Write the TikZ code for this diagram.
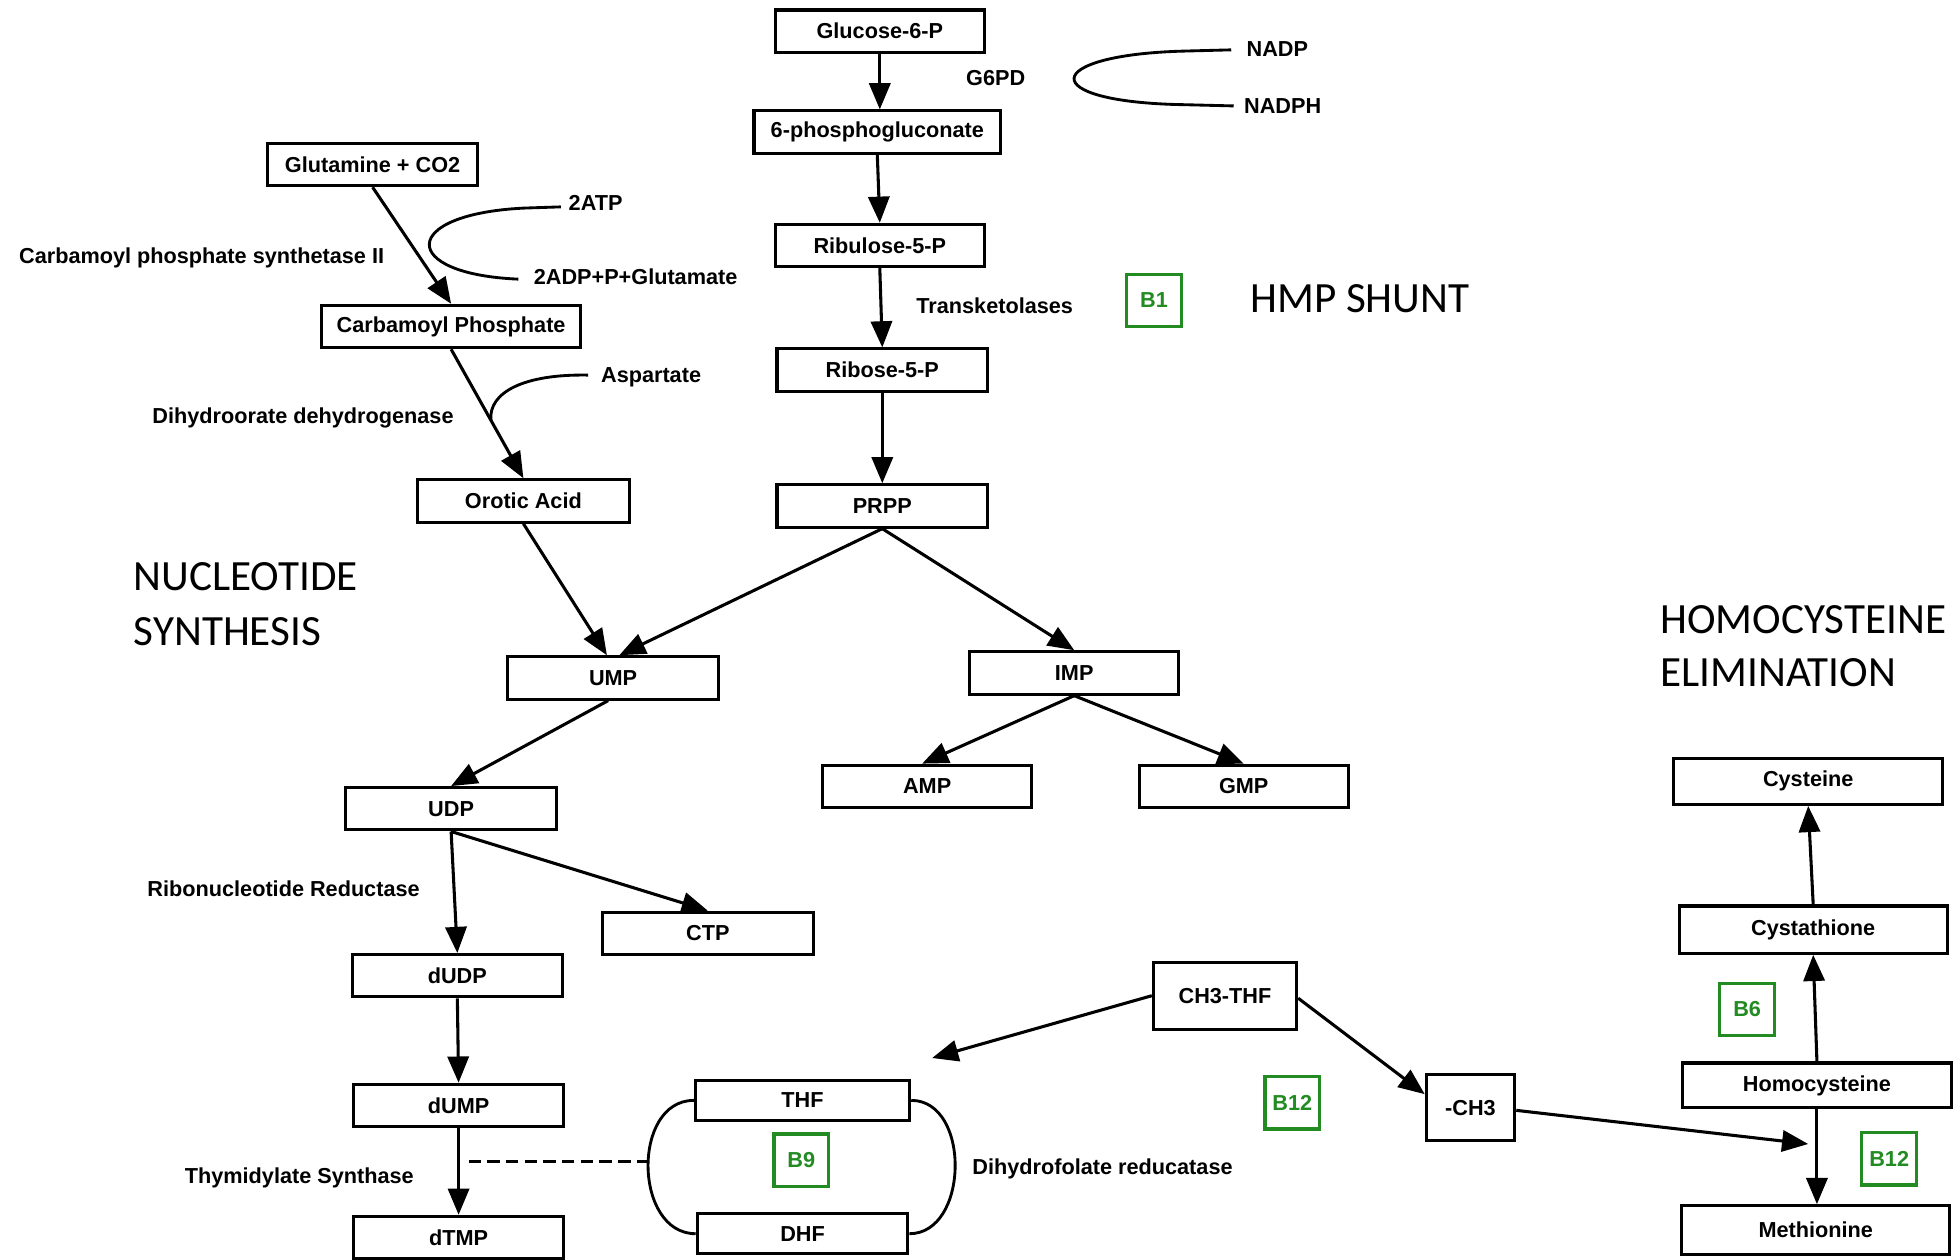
\documentclass[tikz,border=0pt]{standalone}
\usepackage{fontspec}
\setmainfont{Liberation Sans}
\newfontfamily\titlefont{Carlito}
\usetikzlibrary{arrows.meta,calc}
\definecolor{vgreen}{RGB}{34,139,34}
\begin{document}
\begin{tikzpicture}[x=0.02cm,y=-0.02cm,
  every node/.style={font=\fontsize{9.9}{12}\selectfont\bfseries},
  bx/.style={draw, line width=1.4pt, inner sep=0pt, minimum height=0.68cm},
  vit/.style={draw=vgreen, text=vgreen, line width=1.5pt, minimum width=0.88cm, minimum height=0.84cm, inner sep=0pt},
  lbl/.style={anchor=west, inner sep=0pt},
  ttl/.style={anchor=base west, inner sep=0pt, font=\titlefont\fontsize{19.7}{25}\selectfont},
  arr/.style={line width=1.4pt, -{Triangle[length=0.42cm,width=0.34cm]}},
  ln/.style={line width=1.3pt}
]
\fill[white] (0,0) rectangle (1568,1011);
\useasboundingbox (0,0) rectangle (1568,1011);

% boxes
\node[bx, minimum width=3.36cm] (G6P) at (706,25) {Glucose-6-P};
\node[bx, minimum width=3.96cm] (PG) at (704,106) {6-phosphogluconate};
\node[bx, minimum width=3.36cm] (Ru5P) at (706,197) {Ribulose-5-P};
\node[bx, minimum width=3.38cm] (R5P) at (708,297) {Ribose-5-P};
\node[bx, minimum width=3.38cm] (PRPP) at (708,406) {PRPP};
\node[bx, minimum width=3.38cm] (Gln) at (299,132) {Glutamine + CO2};
\node[bx, minimum width=4.16cm] (CP) at (362,262) {Carbamoyl Phosphate};
\node[bx, minimum width=3.4cm] (OA) at (420,402) {Orotic Acid};
\node[bx, minimum width=3.38cm] (UMP) at (492,544) {UMP};
\node[bx, minimum width=3.36cm] (IMP) at (862,540) {IMP};
\node[bx, minimum width=3.36cm] (AMP) at (744,631) {AMP};
\node[bx, minimum width=3.36cm] (GMP) at (998,631) {GMP};
\node[bx, minimum width=3.38cm] (UDP) at (362,649) {UDP};
\node[bx, minimum width=3.38cm] (CTP) at (568,749) {CTP};
\node[bx, minimum width=3.38cm] (dUDP) at (367,783) {dUDP};
\node[bx, minimum width=3.38cm] (dUMP) at (368,887) {dUMP};
\node[bx, minimum width=3.36cm] (dTMP) at (368,993) {dTMP};
\node[bx, minimum width=3.44cm, minimum height=0.64cm] (THF) at (644,883) {THF};
\node[bx, minimum width=3.38cm, minimum height=0.64cm] (DHF) at (644,990) {DHF};
\node[bx, minimum width=2.3cm, minimum height=1.08cm] (CH3THF) at (983,799) {CH3-THF};
\node[bx, minimum width=1.42cm, minimum height=1.06cm] (CH3) at (1180,889) {-CH3};
\node[bx, minimum width=4.32cm, minimum height=0.74cm] (Cys) at (1451,627) {Cysteine};
\node[bx, minimum width=4.3cm, minimum height=0.76cm] (Cysta) at (1455,746) {Cystathione};
\node[bx, minimum width=4.32cm, minimum height=0.72cm] (Hcy) at (1458,871) {Homocysteine};
\node[bx, minimum width=4.3cm, minimum height=0.78cm] (Met) at (1457,987) {Methionine};

% vitamins
\node[vit] (B1) at (926,241) {B1};
\node[vit] (B9) at (643,931) {B9};
\node[vit] (B12a) at (1037,885) {B12};
\node[vit] (B6) at (1402,810) {B6};
\node[vit] (B12b) at (1516,930) {B12};

% labels
\node[lbl] (G6PD) at (775,63) {G6PD};
\node[lbl] (NADP) at (1000,39) {NADP};
\node[lbl] (NADPH) at (998,85) {NADPH};
\node[lbl] (ATP) at (456,163) {2ATP};
\node[lbl] (ADP) at (428,222) {2ADP+P+Glutamate};
\node[lbl] (CPS) at (15,207) {Carbamoyl phosphate synthetase II};
\node[lbl] (Asp) at (482,303) {Aspartate};
\node[lbl] (DHOD) at (122,335) {Dihydroorate dehydrogenase};
\node[lbl] (TK) at (735,245) {Transketolases};
\node[lbl] (RNR) at (118,713) {Ribonucleotide Reductase};
\node[lbl] (TS) at (148,945) {Thymidylate Synthase};
\node[lbl] (DHFR) at (780,938) {Dihydrofolate reducatase};

% titles
\node[ttl] (hmp) at (1003,251) {HMP SHUNT};
\node[ttl] (nuc1) at (107,474) {NUCLEOTIDE};
\node[ttl] (nuc2) at (107,518) {SYNTHESIS};
\node[ttl] (hom1) at (1332,508) {HOMOCYSTEINE};
\node[ttl] (hom2) at (1332,551) {ELIMINATION};

% main arrows
\draw[arr] (G6P.south) -- (G6P.south |- PG.north);
\draw[arr] (PG.south) -- (Ru5P.north);
\draw[arr] (Ru5P.south) -- (R5P.north);
\draw[arr] (R5P.south) -- (PRPP.north);
\draw[arr] (Gln.south) -- (CP.north);
\draw[arr] (CP.south) -- (OA.north);
\draw[arr] (OA.south) -- ($(UMP.north)+(-5,0)$);
\draw[arr] (PRPP.south) -- ($(UMP.north)+(5,0)$);
\draw[arr] (PRPP.south) -- (IMP.north);
\draw[arr] ($(UMP.south)+(-4,0)$) -- (UDP.north);
\draw[arr] (IMP.south) -- ($(AMP.north)+(-4,0)$);
\draw[arr] (IMP.south) -- (GMP.north);
\draw[arr] (UDP.south) -- (dUDP.north);
\draw[arr] (UDP.south) -- (CTP.north);
\draw[arr] (dUDP.south) -- (dUMP.north);
\draw[arr] (dUMP.south) -- (dTMP.north);

% cofactor curves
\draw[ln] ($(NADP.west)+(-12,1)$) -- (950,41) .. controls (835,44) and (830,82) .. (950,84) -- ($(NADPH.west)+(-8,0)$);
\draw[ln] ($(ATP.west)+(-6,3)$) -- (420,167) .. controls (320,172) and (320,220) .. ($(ADP.west)+(-12,2)$);
\coordinate (aspEnd) at ($(CP.south)!0.55!(OA.north)$);
\draw[ln] ($(Asp.west)+(-10,-2)$) .. controls (420,300) and (392,315) .. (aspEnd);

% folate cycle
\draw[ln] (THF.west) .. controls +(-50,0) and +(-50,0) .. (DHF.west);
\draw[ln] (THF.east) .. controls +(48,0) and +(48,0) .. (DHF.east);
\coordinate (dashL) at (376,932);
\coordinate (dashR) at (522,932);
\draw[ln, dash pattern=on 0.2cm off 0.1cm] (dashL) -- (dashR);

% methyl transfer
\coordinate (thfTip) at (748,849);
\coordinate (metTip) at (1451,918);
\draw[arr] (CH3THF.west) -- (thfTip);
\draw[arr] ($(CH3THF.east)+(0,2)$) -- ($(CH3.west)+(0,-11)$);
\draw[arr] ($(CH3.east)+(0,2)$) -- (metTip);

% homocysteine
\draw[arr] (Hcy.south) -- (Hcy.south |- Met.north);
\draw[arr] (Hcy.north) -- (Cysta.south);
\draw[arr] (Cysta.north) -- (Cys.south);
\end{tikzpicture}
\end{document}
